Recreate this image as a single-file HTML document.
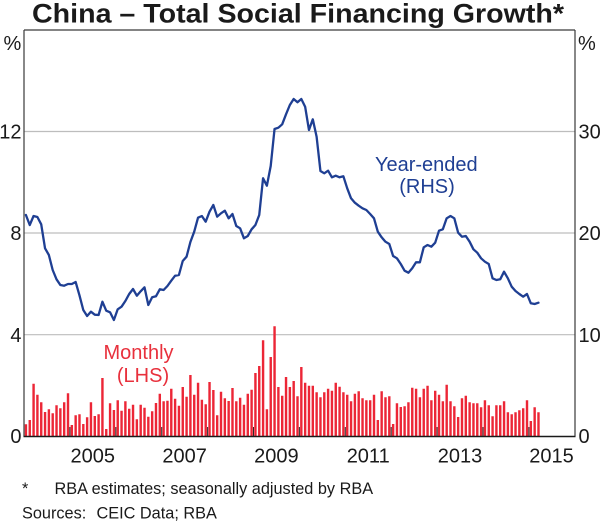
<!DOCTYPE html>
<html>
<head>
<meta charset="utf-8">
<style>
  html, body { margin: 0; padding: 0; background: #ffffff; }
  svg { display: block; }
  text { font-family: "Liberation Sans", Arial, sans-serif; fill: #1a1a1a; }
</style>
</head>
<body>
<svg width="600" height="522" viewBox="0 0 600 522" xmlns="http://www.w3.org/2000/svg">
  <rect x="0" y="0" width="600" height="522" fill="#ffffff"/>

  <!-- Title -->
  <text x="32" y="22.5" font-size="27" font-weight="bold" textLength="532" lengthAdjust="spacingAndGlyphs">China – Total Social Financing Growth*</text>

  <!-- Gridlines -->
  <g stroke="#bdbdbd" stroke-width="1.2">
    <line x1="24" y1="131.5" x2="575" y2="131.5"/>
    <line x1="24" y1="233" x2="575" y2="233"/>
    <line x1="24" y1="334.7" x2="575" y2="334.7"/>
  </g>

  <!-- Bars (monthly, LHS) -->
  <g transform="translate(24,436) scale(3.825,1)">
    <path fill="#ec2636" d="
M0.19 0v-11.7h.63v11.7z M1.19 0v-16h.63v16z M2.19 0v-52.3h.63v52.3z M3.19 0v-41.3h.63v41.3z M4.19 0v-33.7h.63v33.7z
M5.19 0v-24h.63v24z M6.19 0v-26.7h.63v26.7z M7.19 0v-22.7h.63v22.7z M8.19 0v-30.7h.63v30.7z M9.19 0v-27.7h.63v27.7z
M10.19 0v-33.7h.63v33.7z M11.19 0v-42.7h.63v42.7z M12.19 0v-11h.63v11z M13.19 0v-20.7h.63v20.7z M14.19 0v-21.7h.63v21.7z
M15.19 0v-12h.63v12z M16.19 0v-18.7h.63v18.7z M17.19 0v-33.7h.63v33.7z M18.19 0v-20h.63v20z M19.19 0v-21.7h.63v21.7z
M20.19 0v-58h.63v58z M21.19 0v-7h.63v7z M22.19 0v-32.7h.63v32.7z M23.19 0v-26h.63v26z M24.19 0v-35.7h.63v35.7z
M25.19 0v-25.3h.63v25.3z M26.19 0v-34.7h.63v34.7z M27.19 0v-27.3h.63v27.3z M28.19 0v-31.3h.63v31.3z M29.19 0v-16.7h.63v16.7z
M30.19 0v-31.3h.63v31.3z M31.19 0v-28.3h.63v28.3z M32.19 0v-19.3h.63v19.3z M33.19 0v-24.7h.63v24.7z M34.19 0v-33h.63v33z
M35.19 0v-42.3h.63v42.3z M36.19 0v-34.7h.63v34.7z M37.19 0v-35.3h.63v35.3z M38.19 0v-47.3h.63v47.3z M39.19 0v-37.3h.63v37.3z
M40.19 0v-30.3h.63v30.3z M41.19 0v-49h.63v49z M42.19 0v-39.3h.63v39.3z M43.19 0v-61h.63v61z M44.19 0v-41.3h.63v41.3z
M45.19 0v-53.3h.63v53.3z M46.19 0v-36.3h.63v36.3z M47.19 0v-31.7h.63v31.7z M48.19 0v-54h.63v54z M49.19 0v-46h.63v46z
M50.19 0v-20.7h.63v20.7z M51.19 0v-44.3h.63v44.3z M52.19 0v-37.7h.63v37.7z M53.19 0v-35h.63v35z M54.19 0v-48h.63v48z
M55.19 0v-34.7h.63v34.7z M56.19 0v-38.3h.63v38.3z M57.19 0v-31.3h.63v31.3z M58.19 0v-42.3h.63v42.3z M59.19 0v-46.3h.63v46.3z
M60.19 0v-63h.63v63z M61.19 0v-70h.63v70z M62.19 0v-95.7h.63v95.7z M63.19 0v-26.7h.63v26.7z M64.19 0v-79h.63v79z
M65.19 0v-109.7h.63v109.7z M66.19 0v-49h.63v49z M67.19 0v-40.3h.63v40.3z M68.19 0v-59h.63v59z M69.19 0v-49h.63v49z
M70.19 0v-55h.63v55z M71.19 0v-39.7h.63v39.7z M72.19 0v-69h.63v69z M73.19 0v-53.3h.63v53.3z M74.19 0v-50.3h.63v50.3z
M75.19 0v-50.3h.63v50.3z M76.19 0v-43.7h.63v43.7z M77.19 0v-38.7h.63v38.7z M78.19 0v-43.7h.63v43.7z M79.19 0v-47.3h.63v47.3z
M80.19 0v-45.3h.63v45.3z M81.19 0v-53.3h.63v53.3z M82.19 0v-49.3h.63v49.3z M83.19 0v-43.7h.63v43.7z M84.19 0v-41.3h.63v41.3z
M85.19 0v-34.7h.63v34.7z M86.19 0v-42.3h.63v42.3z M87.19 0v-44.7h.63v44.7z M88.19 0v-37.7h.63v37.7z M89.19 0v-35.7h.63v35.7z
M90.19 0v-35.7h.63v35.7z M91.19 0v-41.3h.63v41.3z M92.19 0v-16h.63v16z M93.19 0v-44.7h.63v44.7z M94.19 0v-38.7h.63v38.7z
M95.19 0v-39.7h.63v39.7z M96.19 0v-12h.63v12z M97.19 0v-32.7h.63v32.7z M98.19 0v-29h.63v29z M99.19 0v-29.7h.63v29.7z
M100.19 0v-33.7h.63v33.7z M101.19 0v-48.3h.63v48.3z M102.19 0v-47.3h.63v47.3z M103.19 0v-38.7h.63v38.7z M104.19 0v-47.3h.63v47.3z
M105.19 0v-50.3h.63v50.3z M106.19 0v-35.7h.63v35.7z M107.19 0v-45.3h.63v45.3z M108.19 0v-41.3h.63v41.3z M109.19 0v-34.7h.63v34.7z
M110.19 0v-51.3h.63v51.3z M111.19 0v-34.7h.63v34.7z M112.19 0v-29.7h.63v29.7z M113.19 0v-19h.63v19z M114.19 0v-37.7h.63v37.7z
M115.19 0v-40.3h.63v40.3z M116.19 0v-33.7h.63v33.7z M117.19 0v-32.7h.63v32.7z M118.19 0v-32.7h.63v32.7z M119.19 0v-28.7h.63v28.7z
M120.19 0v-35.7h.63v35.7z M121.19 0v-30.7h.63v30.7z M122.19 0v-19.7h.63v19.7z M123.19 0v-30.7h.63v30.7z M124.19 0v-30.7h.63v30.7z
M125.19 0v-34.7h.63v34.7z M126.19 0v-23.7h.63v23.7z M127.19 0v-21.7h.63v21.7z M128.19 0v-23.7h.63v23.7z M129.19 0v-25.7h.63v25.7z
M130.19 0v-27.7h.63v27.7z M131.19 0v-35.7h.63v35.7z M132.19 0v-15h.63v15z M133.19 0v-28.7h.63v28.7z M134.19 0v-23.7h.63v23.7z
"/>
  </g>

  <!-- Year-ended line (RHS) -->
  <g transform="translate(24,0) scale(3.825,1)">
    <polyline fill="none" stroke="#1f3f93" stroke-width="2.3" stroke-linejoin="round" stroke-linecap="round" vector-effect="non-scaling-stroke" points="
0.5,215 1.5,225 2.5,216 3.5,217 4.5,224.3 5.5,248.3 6.5,255 7.5,270 8.5,279.3 9.5,285
10.5,285.7 11.5,284 12.5,284 13.5,282 14.5,295.3 15.5,310 16.5,316 17.5,311.7 18.5,314.7 19.5,315
20.5,301.7 21.5,310.7 22.5,312.3 23.5,320 24.5,309.3 25.5,306.7 26.5,301 27.5,294 28.5,289 29.5,295.7
30.5,291.3 31.5,287.3 32.5,305 33.5,297.3 34.5,296.3 35.5,289.3 36.5,290 37.5,286 38.5,280.7 39.5,275.7
40.5,275 41.5,261 42.5,256.7 43.5,242 44.5,231.7 45.5,217.7 46.5,216 47.5,221.7 48.5,211.7 49.5,205
50.5,216.7 51.5,213.3 52.5,210.7 53.5,218.3 54.5,214 55.5,226 56.5,228.3 57.5,238.3 58.5,236 59.5,229.3
60.5,225 61.5,215 62.5,178.3 63.5,185.7 64.5,166 65.5,129 66.5,127.7 67.5,124.3 68.5,114.3 69.5,105
70.5,99 71.5,102.3 72.5,99 73.5,106.7 74.5,130 75.5,119.3 76.5,136.7 77.5,171 78.5,173.3 79.5,170.7
80.5,177.3 81.5,175.7 82.5,177.3 83.5,176.3 84.5,188.3 85.5,198.3 86.5,202.7 87.5,205.7 88.5,208.3 89.5,210
90.5,214 91.5,218.3 92.5,231.7 93.5,237.3 94.5,241.7 95.5,244 96.5,256 97.5,258.3 98.5,264 99.5,270.7
100.5,272.7 101.5,268.3 102.5,262.3 103.5,262.3 104.5,247.3 105.5,245 106.5,246.7 107.5,242.7 108.5,230.7 109.5,229.3
110.5,218.3 111.5,216 112.5,218.3 113.5,232.7 114.5,236.7 115.5,236 116.5,241.7 117.5,249.3 118.5,252.7 119.5,258.3
120.5,261.7 121.5,264 122.5,278.3 123.5,280 124.5,279.3 125.5,271.7 126.5,278.3 127.5,286.7 128.5,291 129.5,294
130.5,296.7 131.5,294 132.5,303.3 133.5,304 134.5,302.7"/>
  </g>

  <!-- Axes box -->
  <g stroke="#3a3a3a" stroke-width="1.2" fill="none">
    <line x1="24" y1="30" x2="575" y2="30"/>
    <line x1="24" y1="30" x2="24" y2="436.5"/>
    <line x1="575" y1="30" x2="575" y2="436.5"/>
  </g>
  <line x1="23.5" y1="436.5" x2="575.5" y2="436.5" stroke="#1a1a1a" stroke-width="1.4"/>

  <!-- X ticks -->
  <g stroke="#2a2a2a" stroke-width="1">
    <line x1="69.9" y1="427" x2="69.9" y2="436"/>
    <line x1="115.8" y1="427" x2="115.8" y2="436"/>
    <line x1="161.7" y1="427" x2="161.7" y2="436"/>
    <line x1="207.6" y1="427" x2="207.6" y2="436"/>
    <line x1="253.5" y1="427" x2="253.5" y2="436"/>
    <line x1="299.4" y1="427" x2="299.4" y2="436"/>
    <line x1="345.3" y1="427" x2="345.3" y2="436"/>
    <line x1="391.2" y1="427" x2="391.2" y2="436"/>
    <line x1="437.1" y1="427" x2="437.1" y2="436"/>
    <line x1="483" y1="427" x2="483" y2="436"/>
    <line x1="528.9" y1="427" x2="528.9" y2="436"/>
  </g>

  <!-- Axis unit labels -->
  <text x="3.5" y="50" font-size="20">%</text>
  <text x="578" y="50" font-size="20">%</text>

  <!-- Left tick labels -->
  <g font-size="20" text-anchor="end">
    <text x="21.5" y="138.5">12</text>
    <text x="21.5" y="240">8</text>
    <text x="21.5" y="342">4</text>
    <text x="21.5" y="443">0</text>
  </g>
  <!-- Right tick labels -->
  <g font-size="20">
    <text x="578.5" y="138.5">30</text>
    <text x="578.5" y="240">20</text>
    <text x="578.5" y="342">10</text>
    <text x="578.5" y="443">0</text>
  </g>

  <!-- X labels -->
  <g font-size="20" text-anchor="middle">
    <text x="92.8" y="462.5">2005</text>
    <text x="184.6" y="462.5">2007</text>
    <text x="276.4" y="462.5">2009</text>
    <text x="368.2" y="462.5">2011</text>
    <text x="460" y="462.5">2013</text>
    <text x="551.5" y="462.5">2015</text>
  </g>

  <!-- Series labels -->
  <g font-size="20" text-anchor="middle">
    <text x="138.5" y="359" style="fill:#e8303c">Monthly</text>
    <text x="143" y="382" style="fill:#e8303c">(LHS)</text>
    <text x="426.3" y="171" style="fill:#1f3f93">Year-ended</text>
    <text x="427" y="193" style="fill:#1f3f93">(RHS)</text>
  </g>

  <!-- Footnotes -->
  <g font-size="16.3">
    <text x="22" y="494">*</text>
    <text x="54.5" y="494">RBA estimates; seasonally adjusted by RBA</text>
    <text x="22" y="518.5">Sources:</text>
    <text x="96.5" y="518.5">CEIC Data; RBA</text>
  </g>
</svg>
</body>
</html>
